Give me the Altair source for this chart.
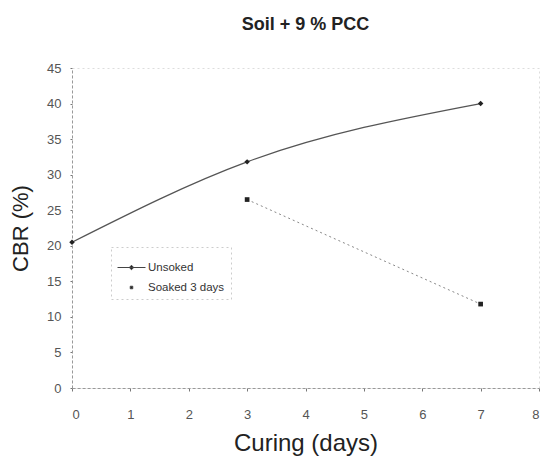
import altair as alt
import pandas as pd

days_unsoaked = [0, 3, 7]
cbr_unsoaked = [20.5, 31.8, 40.0]
days_soaked = [3, 7]
cbr_soaked = [26.5, 11.8]
series_names = ["Unsoked", "Soaked 3 days"]
x_ticks = [0, 1, 2, 3, 4, 5, 6, 7, 8]
y_ticks = [0, 5, 10, 15, 20, 25, 30, 35, 40, 45]

df_u = pd.DataFrame({"days": days_unsoaked, "cbr": cbr_unsoaked, "series": series_names[0]})
df_s = pd.DataFrame({"days": days_soaked, "cbr": cbr_soaked, "series": series_names[1]})
df_all = pd.concat([df_u, df_s], ignore_index=True)

FONT = "Liberation Sans"

x_enc = alt.X("days:Q", scale=alt.Scale(domain=[0, 8], nice=False),
              axis=alt.Axis(values=x_ticks, title="Curing (days)", grid=False,
                            labelPadding=17, tickSize=3, titlePadding=10,
                            titleFontSize=24, format="d", labelOverlap=False))
y_enc = alt.Y("cbr:Q", scale=alt.Scale(domain=[0, 45], nice=False),
              axis=alt.Axis(values=y_ticks, title="CBR (%)", grid=False,
                            labelPadding=9, tickSize=2, titlePadding=14,
                            titleFontSize=22, labelOverlap=False))

line_u = alt.Chart(df_u).mark_line(interpolate="monotone", color="#555555", strokeWidth=1.3).encode(x=x_enc, y=y_enc)
pts_u = alt.Chart(df_u).mark_point(shape="diamond", filled=True, color="#222222", size=30, opacity=1).encode(x=x_enc, y=y_enc)
line_s = alt.Chart(df_s).mark_line(color="#888888", strokeWidth=1, strokeDash=[2, 3]).encode(x=x_enc, y=y_enc)
pts_s = alt.Chart(df_s).mark_point(shape="square", filled=True, color="#222222", size=22, opacity=1).encode(x=x_enc, y=y_enc)

leg = alt.Legend(title=None, orient="none", legendX=39, legendY=179,
                 symbolSize=784, symbolOpacity=1,
                 symbolFillColor="#222222", symbolStrokeColor="#444444",
                 symbolStrokeWidth=1, labelFontSize=11.5,
                 labelFont=FONT, labelColor="#333333",
                 rowPadding=-8, labelOffset=2,
                 strokeColor="#cccccc", padding=6)

legend_layer = alt.Chart(df_all).mark_point(
    filled=True, opacity=0, size=784, strokeWidth=1
).encode(
    x=x_enc, y=y_enc,
    shape=alt.Shape("series:N",
                    scale=alt.Scale(domain=series_names,
                                    range=["M-1,0H1M0,-0.16L0.16,0L0,0.16L-0.16,0Z",
                                           "M-0.09,-0.09H0.09V0.09H-0.09Z"]),
                    legend=leg),
    stroke=alt.Stroke("series:N",
                      scale=alt.Scale(domain=series_names, range=["#444444", "#444444"]),
                      legend=leg),
    color=alt.Color("series:N",
                    scale=alt.Scale(domain=series_names, range=["#222222", "#222222"]),
                    legend=leg),
)

chart = alt.layer(line_u, line_s, pts_u, pts_s, legend_layer).properties(
    width=467, height=320,
    title=alt.TitleParams("Soil + 9 % PCC", font=FONT, fontSize=18, fontWeight="bold",
                          color="#222222", offset=28, anchor="middle"),
    autosize=alt.AutoSizeParams(type="none"),
    padding={"left": 72, "top": 68, "right": 3, "bottom": 73},
).configure_view(
    stroke="#dddddd", strokeDash=[2, 3], strokeWidth=1
).configure_axis(
    labelFont=FONT, titleFont=FONT, labelFontSize=13,
    labelColor="#555555", titleColor="#222222", titleFontWeight="normal",
    domainColor="#999999", domainDash=[3, 2], tickColor="#777777", domainWidth=1,
).configure_legend(
    strokeDash=[2, 3]
)

chart.save("out.html", embed_options={"renderer": "svg", "actions": False})
